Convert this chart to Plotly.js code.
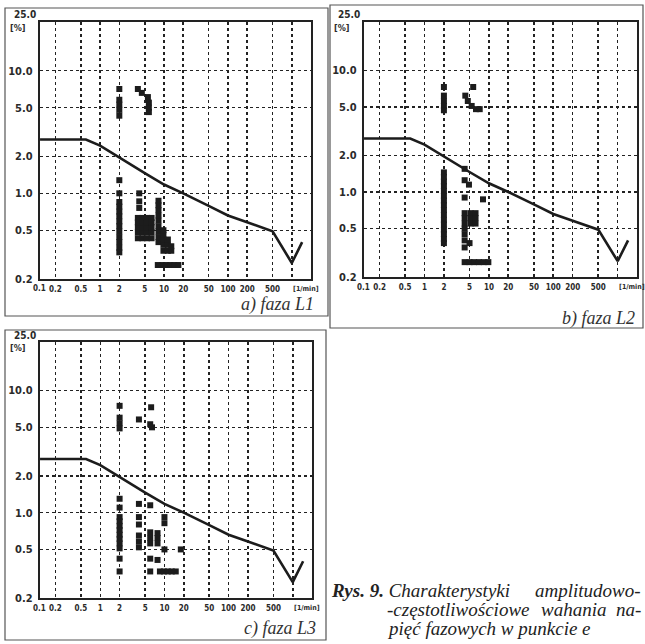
<!DOCTYPE html>
<html><head><meta charset="utf-8">
<script src="https://cdn.plot.ly/plotly-3.0.1.min.js"></script>
<style>html,body{margin:0;padding:0;background:#fff}#c{width:645px;height:644px}</style>
</head><body><div id="c"></div>
<script>
// ---- data ----
const xTickVals = [0.2,0.5,1,2,5,10,20,50,100,200,500,1000];
const xTickText = ['0.2','0.5','1','2','5','10','20','50','100','200','500',''];
const xFirstLabel = '0.1';
const yTickVals = [0.2,0.5,1,2,5,10,25];
const yTickText = ['0.2','0.5','1.0','2.0','5.0','10.0',''];
const yTopLabel = '25.0';
const yUnit = '[%]';
const xUnit = '[1/min]';

// limit curve (same in all three panels)
const limitX = [0.115, 0.6, 1, 2, 5, 10, 20, 50, 100, 200, 500, 1000, 1450];
const limitY = [2.75, 2.75, 2.45, 1.95, 1.46, 1.18, 1.0, 0.79, 0.66, 0.58, 0.49, 0.27, 0.40];

// a) faza L1
const aX = [2,2,2,2,2, 2,2,2,2,2,2,2,2,2,2,2,2,2,
  3.9,4.5,5.6,5.8,5.8,5.8,
  4.1,4.1,4.1,
  3.9,3.9,3.9,3.9,3.9, 4.6,4.6,4.6,4.6,4.6, 5.4,5.4,5.4,5.4,5.4, 6.4,6.4,6.4,6.4,6.4,
  8.2,8.2,8.2,8.2,8.2,8.2,8.2,8.2,8.2,
  9.8,9.8,9.8,9.8,9.8, 11.5,11.5,11.5, 13,13,
  8,9.3,10.8,12.5,14.5,16.8];
const aY = [7.1,5.8,5.3,4.8,4.3, 1.28,1.0,0.85,0.78,0.71,0.65,0.59,0.54,0.49,0.44,0.40,0.36,0.33,
  7.1,6.6,6.1,5.5,5.0,4.6,
  1.0,0.86,0.76,
  0.43,0.48,0.53,0.58,0.63, 0.43,0.48,0.53,0.58,0.63, 0.43,0.48,0.53,0.58,0.63, 0.43,0.48,0.53,0.58,0.63,
  0.40,0.44,0.49,0.54,0.60,0.66,0.73,0.80,0.87,
  0.34,0.38,0.42,0.46,0.50, 0.34,0.38,0.42, 0.34,0.37,
  0.26,0.26,0.26,0.26,0.26,0.26];

// b) faza L2
const bX = [2,2,2,2,2, 2,2,2,2,2,2,2,2,2,2,2,2,2,2,2,2,
  5.7,4.3,4.7,5.4,6.3,7.2,
  4.2,4.2,4.2,4.2,4.2,4.2,4.2,4.2,4.2,4.2, 4.9,
  5.2,5.2,5.2, 6.2,6.2,6.2, 8.1, 5.0,
  4.2,5.0,5.9,7.0,8.3,9.8];
const bY = [7.3,6.2,5.6,5.1,4.7, 1.45,1.33,1.22,1.12,1.02,0.93,0.85,0.78,0.71,0.65,0.59,0.54,0.49,0.45,0.41,0.38,
  7.3,6.2,5.6,5.1,4.8,4.8,
  1.55,1.25,0.90,0.67,0.61,0.55,0.50,0.45,0.40,0.35, 1.15,
  0.67,0.61,0.55, 0.67,0.61,0.55, 0.87, 0.38,
  0.265,0.265,0.265,0.265,0.265,0.265];

// c) faza L3
const cX = [2,2,2,2, 2,2,2,2,2,2,2,2,2,2,2,2,
  6.2,4.0,6.0,6.4,
  4.0,4.0,4.0,4.0,4.0,4.0,
  6.0,6.0,6.0,6.0,6.0,6.0,
  7.8,7.8,7.8,7.8,
  10,10,10, 18,
  8.5,9.8,11.3,13,15];
const cY = [7.5,6.0,5.4,4.9, 1.3,1.1,0.92,0.85,0.78,0.72,0.66,0.61,0.56,0.51,0.42,0.33,
  7.3,5.8,5.3,5.0,
  1.18,0.92,0.80,0.65,0.58,0.52,
  1.15,0.69,0.62,0.56,0.42,0.33,
  0.68,0.62,0.56,0.41,
  0.92,0.82,0.50, 0.50,
  0.33,0.33,0.33,0.33,0.33];

const panelLabels = ['a) faza L1','b) faza L2','c) faza L3'];

// ---- helpers ----
const W = 645, H = 644;
const px = v => v / W;
const py = v => 1 - v / H;
const tickFam = 'DejaVu Sans Condensed, DejaVu Sans, sans-serif';

function xa(l, r, anchor) {
  return {type:'log', range:[-0.94, 3.30], domain:[px(l), px(r)], anchor:anchor,
    tickvals:xTickVals, ticktext:xTickText, ticks:'', showgrid:true, gridcolor:'#222',
    griddash:'dot', gridwidth:1.6, showline:true, linecolor:'#222', linewidth:2.2, mirror:true,
    zeroline:false, fixedrange:true, ticklabelstandoff:1,
    tickfont:{family:tickFam, size:8, weight:'bold', color:'#2a2a2a'}};
}
function ya(t, b, anchor) {
  return {type:'log', range:[Math.log10(0.2), Math.log10(25)], domain:[py(b), py(t)], anchor:anchor,
    tickvals:yTickVals, ticktext:yTickText, ticks:'', showgrid:true, gridcolor:'#222',
    griddash:'dot', gridwidth:1.4, showline:true, linecolor:'#222', linewidth:2.2, mirror:true,
    zeroline:false, fixedrange:true, ticklabelstandoff:3,
    tickfont:{family:tickFam, size:11, weight:'bold', color:'#2a2a2a'}};
}

const mk = {symbol:'square', size:6, color:'#1c1c1c'};
const ln = {color:'#1c1c1c', width:2.6};
const traces = [];
[[aX,aY,'x','y'],[bX,bY,'x2','y2'],[cX,cY,'x3','y3']].forEach(([xs,ys,xr,yr]) => {
  traces.push({type:'scatter', mode:'lines', x:limitX, y:limitY, xaxis:xr, yaxis:yr, line:ln, hoverinfo:'skip'});
  traces.push({type:'scatter', mode:'markers', x:xs, y:ys, xaxis:xr, yaxis:yr, marker:mk, hoverinfo:'skip'});
});

const annotations = [];
const panels = [
  {l:40, r:311, t:22, b:279, frame:[5,8,328,316], cap:[316,304]},
  {l:364, r:637, t:22, b:277, frame:[330,5,643,328], cap:[637,318]},
  {l:40, r:312, t:342, b:598, frame:[5,330,326,640], cap:[318,628]}
];
const shapes = [];
const tf = {family:tickFam, size:11, weight:'bold', color:'#2a2a2a'};
const xf = {family:tickFam, size:8, weight:'bold', color:'#2a2a2a'};
panels.forEach((p, i) => {
  shapes.push({type:'rect', xref:'paper', yref:'paper', x0:px(p.frame[0]), x1:px(p.frame[2]),
    y0:py(p.frame[3]), y1:py(p.frame[1]), line:{color:'#555', width:1.2}});
  annotations.push({xref:'paper', yref:'paper', x:px(p.l-2), y:py(p.t-7), xanchor:'right', yanchor:'middle',
    text:yTopLabel, showarrow:false, font:{family:tickFam, size:10, weight:'bold', color:'#2a2a2a'}});
  annotations.push({xref:'paper', yref:'paper', x:px(p.l-12), y:py(p.t+6), xanchor:'right', yanchor:'middle',
    text:yUnit, showarrow:false, font:{family:tickFam, size:9, weight:'bold', color:'#2a2a2a'}});
  annotations.push({xref:'paper', yref:'paper', x:px(p.l-1), y:py(p.b+10), xanchor:'center', yanchor:'middle',
    text:xFirstLabel, showarrow:false, font:xf});
  annotations.push({xref:'paper', yref:'paper', x:px(p.r-20), y:py(p.b+10), xanchor:'left', yanchor:'middle',
    text:xUnit, showarrow:false, font:{family:tickFam, size:7, weight:'bold', color:'#2a2a2a'}});
  annotations.push({xref:'paper', yref:'paper', x:px(p.cap[0]), y:py(p.cap[1]), xanchor:'right', yanchor:'middle',
    text:'<i>' + panelLabels[i] + '</i>', showarrow:false,
    font:{family:'Liberation Serif, Times New Roman, serif', size:18, color:'#333'}});
});
const capFont = {family:'Liberation Serif, Times New Roman, serif', size:19, color:'#222'};
annotations.push({xref:'paper', yref:'paper', x:px(329), y:py(590), xanchor:'left', yanchor:'middle',
  text:'<b><i>Rys. 9.</i></b> <i>Charakterystyki</i>', showarrow:false, font:capFont});
annotations.push({xref:'paper', yref:'paper', x:px(643), y:py(590), xanchor:'right', yanchor:'middle',
  text:'<i>amplitudowo-</i>', showarrow:false, font:capFont});
annotations.push({xref:'paper', yref:'paper', x:px(385), y:py(609), xanchor:'left', yanchor:'middle',
  text:'<i>-częstotliwościowe</i>', showarrow:false, font:capFont});
annotations.push({xref:'paper', yref:'paper', x:px(643), y:py(609), xanchor:'right', yanchor:'middle',
  text:'<i>wahania  na-</i>', showarrow:false, font:capFont});
annotations.push({xref:'paper', yref:'paper', x:px(385), y:py(628), xanchor:'left', yanchor:'middle',
  text:'<i>pięć fazowych w punkcie e</i>', showarrow:false, font:capFont});

const layout = {
  width:W, height:H, margin:{l:0,r:0,t:0,b:0}, paper_bgcolor:'#fff', plot_bgcolor:'#fff',
  showlegend:false,
  xaxis: xa(panels[0].l, panels[0].r, 'y'), yaxis: ya(panels[0].t, panels[0].b, 'x'),
  xaxis2: xa(panels[1].l, panels[1].r, 'y2'), yaxis2: ya(panels[1].t, panels[1].b, 'x2'),
  xaxis3: xa(panels[2].l, panels[2].r, 'y3'), yaxis3: ya(panels[2].t, panels[2].b, 'x3'),
  shapes: shapes, annotations: annotations
};
Plotly.newPlot('c', traces, layout, {staticPlot:true, displayModeBar:false});
</script></body></html>
